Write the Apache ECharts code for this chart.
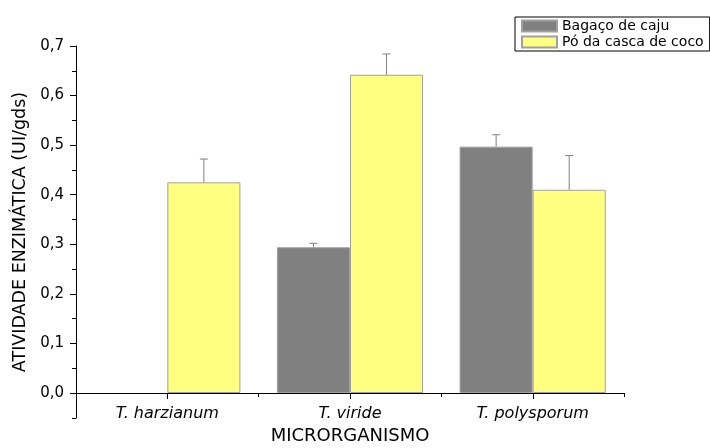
<!DOCTYPE html>
<html>
<head>
<meta charset="utf-8">
<script src="https://cdn.jsdelivr.net/npm/echarts@6/dist/echarts.min.js"></script>
<style>
  html, body { margin: 0; padding: 0; background: #fff; }
  #chart { width: 710px; height: 448px; }
</style>
</head>
<body>
<div id="chart"></div>
<script>
// dados
var categorias = ['T. harzianum', 'T. viride', 'T. polysporum'];
var bagaco = [null, 0.294, 0.497];
var bagacoErro = [null, 0.008, 0.024];
var coco = [0.425, 0.642, 0.410];
var cocoErro = [0.047, 0.042, 0.069];
var yTicks = [0, 0.1, 0.2, 0.3, 0.4, 0.5, 0.6, 0.7];
var yMinor = [0.05, 0.15, 0.25, 0.35, 0.45, 0.55, 0.65];

var fonte = '"DejaVu Sans", sans-serif';
var CAT_GAP = 0.2;

// barras de erro (só o lado de cima)
function erroItem(lado) {
  return function (params, api) {
    var i = api.value(0);
    var v = api.value(1);
    var e = api.value(2);
    var catW = api.size([1, 0])[0];
    var bw = catW * (1 - CAT_GAP) / 2;
    var base = api.coord([i, v]);
    var topo = api.coord([i, v + e]);
    var x = base[0] + (lado === 0 ? -bw / 2 : bw / 2);
    var style = { stroke: '#808080', lineWidth: 1 };
    return {
      type: 'group',
      children: [
        { type: 'line', shape: { x1: x, y1: base[1], x2: x, y2: topo[1] }, style: style },
        { type: 'line', shape: { x1: x - 4, y1: topo[1], x2: x + 4, y2: topo[1] }, style: style }
      ]
    };
  };
}

// tick no centro de cada categoria (o alignWithLabel não aparece aqui)
function tickCentro(params, api) {
  var p = api.coord([api.value(0), 0]);
  var x = Math.round(p[0]) + 0.5;
  return {
    type: 'line',
    shape: { x1: x, y1: p[1], x2: x, y2: p[1] + 6 },
    style: { stroke: '#000', lineWidth: 1 }
  };
}

function erroDados(vals, errs) {
  var out = [];
  vals.forEach(function (v, i) {
    if (v != null) out.push([i, v, errs[i]]);
  });
  return out;
}

var chart = echarts.init(document.getElementById('chart'));

var option = {
  animation: false,
  textStyle: { fontFamily: fonte },
  grid: [
    { left: 76, right: 86, top: 46, bottom: 55, outerBoundsMode: 'none' },
    // faixa abaixo do zero: resto do eixo y
    { left: 76, right: 86, top: 393, bottom: 30, outerBoundsMode: 'none' },
    // só para o título do eixo y (centrado no eixo inteiro)
    { left: 76, right: 86, top: 46, bottom: 30, outerBoundsMode: 'none' }
  ],
  legend: {
    orient: 'vertical',
    left: 515,
    top: 17,
    itemWidth: 35,
    itemHeight: 11,
    itemGap: 2,
    padding: [2, 6, 2, 6],
    borderColor: '#000',
    borderWidth: 1,
    textStyle: { fontSize: 14, color: '#000', fontFamily: fonte },
    data: [
      { name: 'Bagaço de caju', icon: 'rect' },
      { name: 'Pó da casca de coco', icon: 'rect' }
    ]
  },
  xAxis: [
    {
      type: 'category',
      gridIndex: 0,
      data: categorias,
      position: 'bottom',
      name: 'MICRORGANISMO',
      nameLocation: 'middle',
      nameGap: 33,
      nameTextStyle: { fontSize: 18, color: '#000', fontFamily: fonte },
      axisLine: { onZero: false, lineStyle: { color: '#000', width: 1 } },
      axisTick: { show: true, interval: 0, length: 4, lineStyle: { color: '#000' } },
      axisLabel: { fontSize: 16, fontStyle: 'italic', color: '#000', margin: 13, fontFamily: fonte },
      splitLine: { show: false }
    },
    { type: 'category', gridIndex: 1, data: categorias, show: false },
    { type: 'category', gridIndex: 2, data: categorias, show: false }
  ],
  yAxis: [
    {
      type: 'value',
      gridIndex: 0,
      min: 0,
      max: 0.7,
      interval: 0.1,
      axisLine: { show: true, onZero: false, lineStyle: { color: '#000', width: 1 } },
      axisTick: { show: true, length: 6, customValues: yTicks, lineStyle: { color: '#000' } },
      axisLabel: {
        customValues: yTicks,
        fontSize: 15,
        color: '#000',
        margin: 12,
        fontFamily: fonte,
        formatter: function (v) { return v.toFixed(1).replace('.', ','); }
      },
      splitLine: { show: false }
    },
    {
      type: 'value',
      gridIndex: 0,
      min: 0,
      max: 0.7,
      interval: 0.1,
      position: 'left',
      axisLine: { show: false, onZero: false },
      axisTick: { show: true, length: 4, customValues: yMinor, lineStyle: { color: '#000' } },
      axisLabel: { show: false },
      splitLine: { show: false }
    },
    {
      type: 'value',
      gridIndex: 1,
      min: -0.05,
      max: 0,
      position: 'left',
      axisLine: { show: true, onZero: false, lineStyle: { color: '#000', width: 1 } },
      axisTick: { show: true, length: 4, customValues: [-0.05], lineStyle: { color: '#000' } },
      axisLabel: { show: false },
      splitLine: { show: false }
    },
    {
      type: 'value',
      gridIndex: 2,
      min: -0.05,
      max: 0.7,
      position: 'left',
      name: 'ATIVIDADE ENZIMÁTICA (UI/gds)',
      nameLocation: 'middle',
      nameRotate: 90,
      nameGap: 47,
      nameTextStyle: { fontSize: 17.5, color: '#000', fontFamily: fonte },
      axisLine: { show: false, onZero: false },
      axisTick: { show: false },
      axisLabel: { show: false },
      splitLine: { show: false }
    }
  ],
  series: [
    {
      name: 'Bagaço de caju',
      type: 'bar',
      data: bagaco,
      barGap: '0%',
      barCategoryGap: (CAT_GAP * 100) + '%',
      itemStyle: { color: '#808080', borderColor: '#a0a0a0', borderWidth: 1 }
    },
    {
      name: 'Pó da casca de coco',
      type: 'bar',
      data: coco,
      barGap: '0%',
      barCategoryGap: (CAT_GAP * 100) + '%',
      itemStyle: { color: '#ffff80', borderColor: '#a0a0a0', borderWidth: 1 }
    },
    {
      type: 'custom',
      renderItem: erroItem(0),
      data: erroDados(bagaco, bagacoErro),
      z: 3,
      silent: true
    },
    {
      type: 'custom',
      renderItem: erroItem(1),
      data: erroDados(coco, cocoErro),
      z: 3,
      silent: true
    },
    {
      type: 'custom',
      renderItem: tickCentro,
      data: categorias.map(function (c, i) { return [i]; }),
      clip: false,
      z: 3,
      silent: true
    }
  ]
};

chart.setOption(option);
</script>
</body>
</html>
